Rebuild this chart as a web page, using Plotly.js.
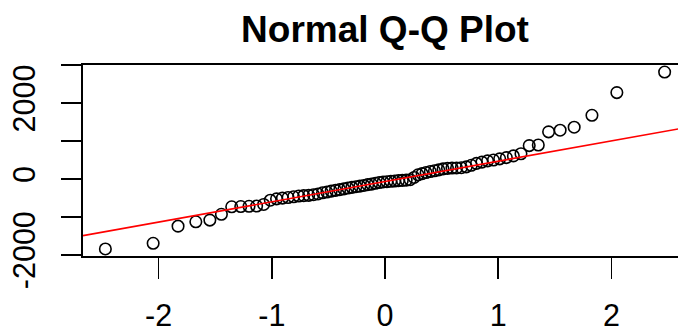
<!DOCTYPE html>
<html>
<head>
<meta charset="utf-8">
<script src="https://cdn.plot.ly/plotly-3.0.1.min.js"></script>
<style>
  html, body { margin: 0; padding: 0; background: #fff; overflow: hidden; width: 678px; height: 331px; }
  #chart { width: 687px; height: 331px; }
</style>
</head>
<body>
<div id="chart"></div>
<script>
// Theoretical normal quantiles (x) for n = 74
const theoretical = [
  -2.470, -2.048, -1.828, -1.671, -1.547, -1.445, -1.354, -1.274, -1.201, -1.134,
  -1.072, -1.013, -0.958, -0.906, -0.856, -0.808, -0.762, -0.718, -0.674, -0.632,
  -0.592, -0.552, -0.513, -0.475, -0.437, -0.400, -0.363, -0.328, -0.292, -0.257,
  -0.222, -0.187, -0.153, -0.119, -0.085, -0.051, -0.017,
   0.017,  0.051,  0.085,  0.119,  0.153,  0.187,  0.222,  0.257,  0.292,  0.328,
   0.363,  0.400,  0.437,  0.475,  0.513,  0.552,  0.592,  0.632,  0.674,  0.718,
   0.762,  0.808,  0.856,  0.906,  0.958,  1.013,  1.072,  1.134,  1.201,  1.274,
   1.354,  1.445,  1.547,  1.671,  1.828,  2.048,  2.470
];
// Sample quantiles (y), sorted
const sample = [
  -1846, -1697, -1245, -1130, -1085, -932, -735, -728, -722, -715,
  -672, -560, -525, -505, -490, -470, -450, -440, -432, -415,
  -395, -365, -345, -320, -300, -282, -262, -240, -222, -205,
  -190, -172, -150, -135, -115, -95, -80,
  -72, -62, -55, -45, -38, -32, -20, 40, 110, 140,
  170, 195, 215, 240, 265, 280, 288, 290, 296, 320,
  360, 410, 445, 478, 500, 530, 564, 608, 665, 880,
  896, 1243, 1287, 1365, 1679, 2279, 2820
];
const xTickVals = [-2, -1, 0, 1, 2];
const xTickText = ['-2', '-1', '0', '1', '2'];
const yTickVals = [-2000, -1000, 0, 1000, 2000, 3000];
const yTickText = ['-2000', '', '0', '', '2000', ''];
const titleText = 'Normal Q-Q Plot';

// R-style ranges (data range extended by 4%)
function padRange(arr) {
  const lo = Math.min(...arr), hi = Math.max(...arr), d = (hi - lo) * 0.04;
  return [lo - d, hi + d];
}
const xr = padRange(theoretical);
const yr = padRange(sample);

// qqline: line through the first and third quartiles (type 7)
function quantile7(sorted, p) {
  const h = (sorted.length - 1) * p, lo = Math.floor(h);
  return sorted[lo] + (h - lo) * (sorted[Math.min(lo + 1, sorted.length - 1)] - sorted[lo]);
}
const zq = 0.6744898;
const q1 = quantile7(sample, 0.25), q3 = quantile7(sample, 0.75);
const slope = (q3 - q1) / (2 * zq);
const intercept = q1 + slope * zq;

const font = 'Liberation Sans, Arial, sans-serif';

const data = [
  {
    x: theoretical, y: sample, type: 'scatter', mode: 'markers',
    marker: { symbol: 'circle-open', size: 11.5, color: '#000', line: { width: 1.6, color: '#000' } },
    hoverinfo: 'skip', showlegend: false
  },
  {
    x: xr, y: xr.map(v => intercept + slope * v), type: 'scatter', mode: 'lines',
    line: { color: '#ff0000', width: 1.6 }, hoverinfo: 'skip', showlegend: false
  }
];

const layout = {
  width: 687, height: 331,
  margin: { l: 83, r: 0, t: 65, b: 75, pad: 0 },
  paper_bgcolor: '#fff', plot_bgcolor: '#fff',
  showlegend: false,
  title: {
    text: titleText,
    font: { family: font, size: 37, color: '#000', weight: 'bold' },
    x: 0.5, xref: 'paper', xanchor: 'center',
    y: 1 - 29 / 331, yref: 'container', yanchor: 'middle'
  },
  xaxis: {
    range: xr, tickmode: 'array', tickvals: xTickVals, ticktext: xTickText,
    ticks: 'outside', ticklen: 21, tickwidth: 1.6, tickcolor: '#000',
    showline: true, mirror: true, linecolor: '#000', linewidth: 1.6,
    showgrid: false, zeroline: false,
    tickfont: { family: font, size: 30.5, color: '#000' },
    ticklabelstandoff: 11
  },
  yaxis: {
    range: yr, tickmode: 'array', tickvals: yTickVals, ticktext: yTickText,
    ticks: 'outside', ticklen: 20, tickwidth: 1.6, tickcolor: '#000',
    showline: true, mirror: true, linecolor: '#000', linewidth: 1.6,
    showgrid: false, zeroline: false, tickangle: -90,
    tickfont: { family: font, size: 30.5, color: '#000' },
    ticklabelstandoff: 14
  }
};

Plotly.newPlot('chart', data, layout, { displayModeBar: false, staticPlot: true });
</script>
</body>
</html>
